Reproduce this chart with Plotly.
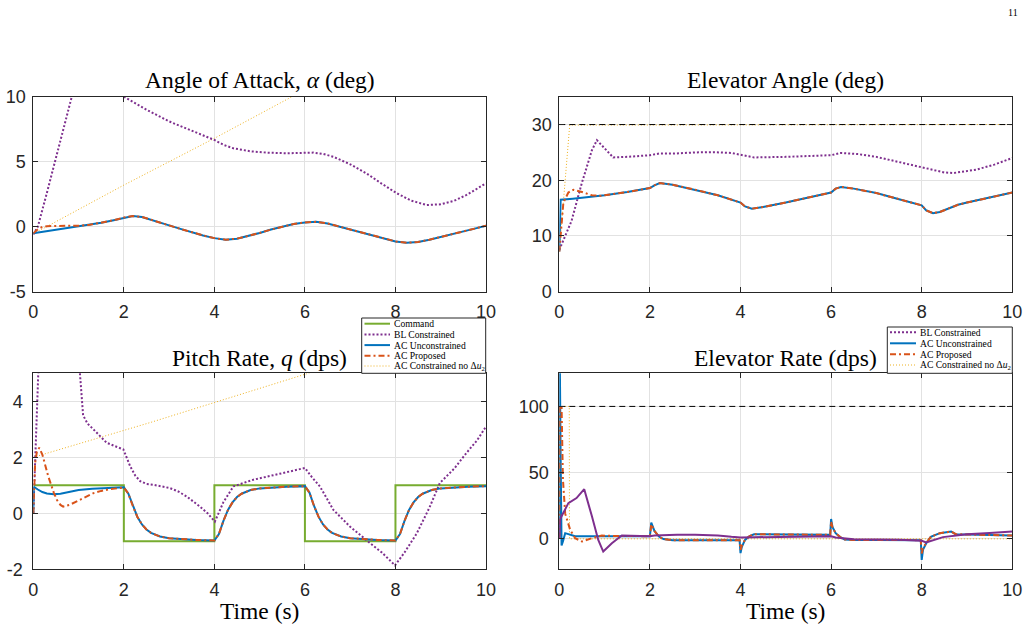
import plotly.graph_objects as go

W, H = 1029, 631
BLUE = "#0072BD"
ORANGE = "#D95319"
YELLOW = "#EDB120"
PURPLE = "#7E2F8E"
GREEN = "#77AC30"
AXC = "#262626"
GRID = "#E2E2E2"

# ---------------- data ----------------
# Angle of attack (deg)
AOA_T = [0, 0.25, 0.5, 0.75, 1.0, 1.25, 1.5, 1.75, 2.0, 2.2, 2.4, 2.6, 2.8, 3.0, 3.25, 3.5, 3.75, 4.0,
         4.25, 4.5, 4.75, 5.0, 5.25, 5.5, 5.75, 6.0, 6.25, 6.5, 6.75, 7.0, 7.25, 7.5, 7.75, 8.0, 8.25,
         8.5, 8.75, 9.0, 9.25, 9.5, 9.75, 10.0]
AOA_UNC = [-0.5, -0.37, -0.25, -0.12, 0.0, 0.13, 0.3, 0.48, 0.7, 0.82, 0.75, 0.55, 0.32, 0.1, -0.17,
           -0.43, -0.67, -0.88, -1.0, -0.92, -0.72, -0.48, -0.22, 0.02, 0.2, 0.33, 0.38, 0.25, 0.02,
           -0.22, -0.47, -0.71, -0.94, -1.13, -1.23, -1.18, -1.0, -0.8, -0.6, -0.38, -0.15, 0.08]
AOA_PROP_HEAD_T = [0, 0.1, 0.2, 0.3, 0.5, 0.75, 1.0, 1.25]
AOA_PROP_HEAD = [-0.5, -0.2, -0.02, 0.03, 0.06, 0.06, 0.07, 0.15]
AOA_BL_T = [0, 0.1, 0.3, 0.5, 0.7, 0.85, 1.0, 1.3, 1.6, 1.9, 2.0, 2.5, 3.0, 3.5, 4.0, 4.2, 4.42, 4.8,
            5.15, 5.6, 6.19, 6.4, 6.63, 7.0, 7.36, 7.7, 8.03, 8.35, 8.69, 9.0, 9.3, 9.57, 9.8, 10.0]
AOA_BL = [-0.6, 0.0, 2.6, 5.3, 8.0, 10.0, 11.8, 13.2, 12.5, 10.5, 10.0, 9.0, 8.1, 7.4, 6.67, 6.3,
          6.03, 5.8, 5.7, 5.65, 5.7, 5.6, 5.38, 4.8, 4.1, 3.3, 2.57, 2.0, 1.67, 1.72, 2.0, 2.44, 2.9, 3.34]
AOA_NO_T = [0, 2, 4, 5.67, 10]
AOA_NO = [-0.55, 3.2, 6.8, 10.0, 18.0]

# Elevator angle (deg)
EA_T = [0, 0.03, 0.3, 0.72, 1.0, 1.5, 2.0, 2.1, 2.22, 2.5, 3.0, 3.5, 4.0, 4.1, 4.25, 4.5, 5.0, 5.5,
        6.0, 6.1, 6.22, 6.5, 7.0, 7.5, 8.0, 8.1, 8.25, 8.4, 8.6, 8.8, 9.0, 9.5, 10.0]
EA_UNC = [7.2, 16.5, 16.7, 17.0, 17.3, 17.9, 18.6, 19.1, 19.5, 19.2, 18.3, 17.3, 16.0, 15.3, 14.9,
          15.2, 16.0, 16.9, 17.8, 18.5, 18.8, 18.5, 17.7, 16.6, 15.5, 14.6, 14.1, 14.3, 15.0, 15.6,
          16.0, 16.9, 17.8]
EA_PROP_HEAD_T = [0, 0.05, 0.09, 0.2, 0.31, 0.5, 0.72, 0.9]
EA_PROP_HEAD = [7.2, 12.0, 16.0, 17.8, 18.3, 17.9, 17.3, 17.2]
EA_BL_T = [0, 0.27, 0.49, 0.72, 0.83, 1.01, 1.19, 1.5, 2.0, 2.2, 2.55, 3.0, 3.4, 3.8, 4.0, 4.3, 5.0,
           5.5, 6.0, 6.2, 6.6, 7.0, 7.5, 8.0, 8.5, 8.7, 9.2, 9.6, 10.0]
EA_BL = [7.5, 12.7, 19.3, 25.4, 27.2, 25.7, 24.1, 24.2, 24.5, 24.8, 24.8, 25.0, 25.05, 24.9, 24.6,
         24.1, 24.2, 24.3, 24.5, 24.9, 24.7, 24.2, 23.3, 22.4, 21.4, 21.3, 21.9, 22.8, 24.0]
EA_NO_T = [0, 0.23, 10]
EA_NO = [7.2, 29.9, 30.0]
EA_LIMIT_T = [0, 10]
EA_LIMIT = [30, 30]

# Pitch rate (dps)
CMD_T = [0, 2, 2, 4, 4, 6, 6, 8, 8, 10]
CMD = [1, 1, -1, -1, 1, 1, -1, -1, 1, 1]
Q_UNC_HEAD_T = [0, 0.01, 0.1, 0.2, 0.3, 0.45, 0.6, 0.8, 1.0, 1.3, 1.6, 2.0]
Q_UNC_HEAD = [0, 0.95, 0.85, 0.76, 0.71, 0.68, 0.70, 0.76, 0.83, 0.88, 0.91, 0.93]
Q_PROP_HEAD_T = [0, 0.04, 0.08, 0.13, 0.2, 0.33, 0.45, 0.52, 0.6, 0.66, 0.8, 0.96, 1.15, 1.33, 1.5,
                 1.69, 2.0]
Q_PROP_HEAD = [0, 1.8, 2.2, 2.34, 2.1, 1.32, 0.75, 0.48, 0.3, 0.24, 0.3, 0.42, 0.58, 0.72, 0.8,
               0.86, 0.92]
Q_TAIL_T = [2.1, 2.2, 2.3, 2.4, 2.5, 2.6, 2.8, 3.0, 3.3, 3.6, 4.0,
            4.1, 4.2, 4.3, 4.4, 4.5, 4.6, 4.8, 5.0, 5.3, 5.6, 6.0,
            6.1, 6.2, 6.3, 6.4, 6.5, 6.6, 6.8, 7.0, 7.3, 7.6, 8.0,
            8.1, 8.2, 8.3, 8.4, 8.5, 8.6, 8.8, 9.0, 9.3, 9.6, 10.0]
Q_TAIL = [0.70, 0.25, -0.13, -0.40, -0.58, -0.70, -0.83, -0.89, -0.93, -0.95, -0.97,
          -0.74, -0.27, 0.12, 0.39, 0.58, 0.70, 0.83, 0.89, 0.93, 0.95, 0.97,
          0.74, 0.27, -0.12, -0.40, -0.58, -0.70, -0.83, -0.89, -0.93, -0.95, -0.97,
          -0.74, -0.27, 0.12, 0.39, 0.58, 0.70, 0.83, 0.89, 0.93, 0.95, 0.97]
Q_BL_T = [0, 0.05, 0.11, 0.2, 0.5, 0.8, 1.03, 1.1, 1.2, 1.29, 1.45, 1.62, 1.8, 1.99, 2.14, 2.25, 2.36,
          2.5, 2.65, 3.02, 3.2, 3.39, 3.68, 3.85, 4.01, 4.2, 4.42, 4.86, 5.52, 6.0, 6.15, 6.33, 6.63,
          7.0, 7.36, 7.7, 7.99, 8.2, 8.47, 8.75, 8.98, 9.3, 9.57, 9.8, 10.0]
Q_BL = [0, 2.5, 5.0, 8.0, 10.0, 8.0, 5.0, 3.5, 3.2, 3.06, 2.8, 2.52, 2.4, 2.28, 1.68, 1.35, 1.15,
        1.05, 1.02, 0.9, 0.78, 0.6, 0.24, 0.0, -0.3, 0.4, 0.96, 1.2, 1.44, 1.62, 1.3, 0.96, 0.12,
        -0.48, -0.96, -1.4, -1.86, -1.4, -0.72, 0.2, 1.08, 1.6, 2.16, 2.6, 3.1]
Q_NO_T = [0, 2.58, 6.15, 10]
Q_NO = [2.0, 3.24, 5.04, 6.9]

# Elevator rate (dps)
ER_UNC_T = [0, 0.01, 0.03, 0.05, 0.08, 0.13, 0.35, 1.0, 1.5, 2.0, 2.03, 2.1, 2.2, 2.3, 2.5, 3.0, 3.5,
            3.98, 4.0, 4.03, 4.1, 4.2, 4.3, 4.6, 5.0, 5.5, 5.98, 6.0, 6.03, 6.1, 6.2, 6.3, 6.5, 7.0,
            7.5, 7.98, 8.0, 8.03, 8.1, 8.2, 8.4, 8.65, 8.75, 9.0, 9.5, 10.0]
ER_UNC = [0, 140, 60, -5, -2, 4.3, 2.0, 2.0, 2.0, 2.0, 12.3, 6.0, 1.7, -0.2, -1.0, -1.0, -1.0, -1.0,
          -10.8, -6.0, -0.8, 2.0, 3.5, 3.5, 3.3, 3.0, 3.0, 15.0, 9.0, 4.3, 1.3, -0.5, -0.8, -0.8,
          -1.0, -1.0, -15.9, -8.0, -3.3, 1.5, 4.3, 5.5, 3.5, 3.3, 3.0, 2.5]
ER_PROP_T = [0, 0.005, 0.05, 0.08, 0.13, 0.24, 0.35, 0.5, 0.72, 0.94, 1.2, 2.0, 2.03, 2.1, 2.2, 2.3,
             2.5, 3.0, 3.5, 3.98, 4.0, 4.03, 4.1, 4.2, 4.3, 4.6, 5.0, 5.5, 5.98, 6.0, 6.03, 6.1, 6.2,
             6.3, 6.5, 7.0, 7.5, 7.98, 8.0, 8.03, 8.1, 8.2, 8.4, 8.65, 8.75, 9.0, 9.5, 10.0]
ER_PROP = [0, 100, 100, 45, 19, 6.8, 0.5, -2.0, 0.5, 2.5, 2.2, 2.0, 11.0, 6.0, 1.7, -0.2, -1.0, -1.0,
           -1.0, -1.0, -8.3, -5.0, -0.8, 2.0, 3.5, 3.5, 3.3, 3.0, 3.0, 13.0, 8.5, 4.3, 1.3, -0.5,
           -0.8, -0.8, -1.0, -1.0, -11.0, -6.5, -3.3, 1.5, 4.3, 5.5, 3.5, 3.3, 3.0, 2.5]
ER_BL_T = [0, 0.02, 0.05, 0.2, 0.38, 0.55, 0.72, 0.86, 0.97, 1.16, 1.38, 1.6, 2.0, 2.1, 2.3, 2.6, 3.0,
           3.5, 3.8, 4.0, 4.3, 5.0, 5.5, 6.0, 6.1, 6.5, 7.0, 7.5, 8.0, 8.1, 8.47, 9.0, 9.5, 10.0]
ER_BL = [0, 15, 17, 27, 30.8, 37.5, 17, -0.8, -9.6, -3.3, 2.5, 2.2, 2.0, 2.5, 2.8, 3.0, 3.0, 2.5, 1.5,
         1.0, 1.2, 1.5, 1.8, 2.0, 1.0, -0.3, -0.5, -0.6, -1.5, -2.8, 1.3, 3.5, 4.5, 5.5]
ER_NO_T = [0, 0.005, 0.22, 0.225, 10]
ER_NO = [0, 100, 100, 0, 0]
ER_LIMIT_T = [0, 10]
ER_LIMIT = [100, 100]

TITLES = ["Angle of Attack, <i>α</i> (deg)", "Elevator Angle (deg)",
          "Pitch Rate, <i>q</i> (dps)", "Elevator Rate (dps)"]
XLABEL = "Time (s)"
X_TICKS = [0, 2, 4, 6, 8, 10]
Y_TICKS = [[-5, 0, 5, 10], [0, 10, 20, 30], [-2, 0, 2, 4], [0, 50, 100]]
Y_RANGES = [[-5, 10], [0, 35], [-2, 5], [-23, 125]]
LEG1 = ["Command", "BL Constrained", "AC Unconstrained", "AC Proposed",
        "AC Constrained no Δ<i>u</i><sub>2</sub>"]
LEG2 = LEG1[1:]

# ---------------- styles ----------------
S_CMD = dict(color=GREEN, width=2)
S_BL = dict(color=PURPLE, width=2, dash="2px,2px")
S_UNC = dict(color=BLUE, width=2)
S_PROP = dict(color=ORANGE, width=2, dash="6px,3px,2px,3px")
S_NO = dict(color=YELLOW, width=1, dash="1px,2px")
S_LIM = dict(color="black", width=1, dash="6px,4px")

fig = go.Figure()


def add(x, y, line, ax):
    xa = "x" if ax == 1 else "x%d" % ax
    ya = "y" if ax == 1 else "y%d" % ax
    fig.add_trace(go.Scatter(x=x, y=y, mode="lines", line=line, xaxis=xa, yaxis=ya,
                             showlegend=False, hoverinfo="skip"))


# top-left
add(AOA_NO_T, AOA_NO, S_NO, 1)
add(AOA_BL_T, AOA_BL, S_BL, 1)
add(AOA_T, AOA_UNC, S_UNC, 1)
add(AOA_PROP_HEAD_T + AOA_T[6:], AOA_PROP_HEAD + AOA_UNC[6:], S_PROP, 1)
# top-right
add(EA_NO_T, EA_NO, S_NO, 2)
add(EA_LIMIT_T, EA_LIMIT, S_LIM, 2)
add(EA_BL_T, EA_BL, S_BL, 2)
add(EA_T, EA_UNC, S_UNC, 2)
add(EA_PROP_HEAD_T + EA_T[4:], EA_PROP_HEAD + EA_UNC[4:], S_PROP, 2)
# bottom-left
add(CMD_T, CMD, S_CMD, 3)
add(Q_NO_T, Q_NO, S_NO, 3)
add(Q_BL_T, Q_BL, S_BL, 3)
add(Q_UNC_HEAD_T + Q_TAIL_T, Q_UNC_HEAD + Q_TAIL, S_UNC, 3)
add(Q_PROP_HEAD_T + Q_TAIL_T, Q_PROP_HEAD + Q_TAIL, S_PROP, 3)
# bottom-right
add(ER_NO_T, ER_NO, S_NO, 4)
add(ER_LIMIT_T, ER_LIMIT, S_LIM, 4)
add(ER_UNC_T, ER_UNC, S_UNC, 4)
add(ER_PROP_T, ER_PROP, S_PROP, 4)
add(ER_BL_T, ER_BL, dict(color=PURPLE, width=2), 4)


def px(x):
    return x / W


def py(y):
    return 1 - y / H


XL = [px(33.3), px(486.0)]
XR = [px(559.3), px(1012.3)]
YT = [py(291.7), py(96.7)]
YB = [py(569.3), py(373.3)]
doms = [(XL, YT), (XR, YT), (XL, YB), (XR, YB)]
Y_STANDOFF = [3, 3, 6, 6]

tickfont = dict(family="Liberation Sans, Arial, sans-serif", size=18, color=AXC)
common = dict(showline=True, linecolor=AXC, linewidth=1, mirror="allticks", ticks="inside",
              ticklen=5, tickcolor=AXC, showgrid=True, gridcolor=GRID, gridwidth=1,
              zeroline=False, tickfont=tickfont, automargin=False)
layout = {}
for i, (xd, yd) in enumerate(doms):
    n = "" if i == 0 else str(i + 1)
    layout["xaxis" + n] = dict(common, domain=xd, range=[0, 10], tickvals=X_TICKS,
                               ticktext=[str(v) for v in X_TICKS], ticklabelstandoff=4,
                               anchor="y" + n)
    layout["yaxis" + n] = dict(common, domain=yd, range=Y_RANGES[i], tickvals=Y_TICKS[i],
                               ticktext=[str(v) for v in Y_TICKS[i]],
                               ticklabelstandoff=Y_STANDOFF[i], anchor="x" + n)

serif = "Liberation Serif, Times New Roman, serif"
ann = []
title_pos = [(259.5, 80), (785.8, 80), (259.5, 357.5), (785.8, 357.5)]
for (x, y), t in zip(title_pos, TITLES):
    ann.append(dict(x=px(x), y=py(y), xref="paper", yref="paper", text=t, showarrow=False,
                    xanchor="center", yanchor="middle",
                    font=dict(family=serif, size=23.5, color="black")))
for x in (259.5, 785.8):
    ann.append(dict(x=px(x), y=py(611), xref="paper", yref="paper", text=XLABEL, showarrow=False,
                    xanchor="center", yanchor="middle",
                    font=dict(family=serif, size=23.5, color="black")))
ann.append(dict(x=px(1013), y=py(12), xref="paper", yref="paper", text="11", showarrow=False,
                xanchor="center", yanchor="middle", font=dict(family=serif, size=10, color="black")))

shapes = []


def legend(box, labels, styles, ys, lx0, lx1, tx):
    x0, y0, x1, y1 = box
    shapes.append(dict(type="rect", xref="paper", yref="paper", x0=px(x0), x1=px(x1),
                       y0=py(y1), y1=py(y0), fillcolor="white", line=dict(color=AXC, width=1),
                       layer="above"))
    for lab, st, y in zip(labels, styles, ys):
        shapes.append(dict(type="line", xref="paper", yref="paper", x0=px(lx0), x1=px(lx1),
                           y0=py(y), y1=py(y), line=st, layer="above"))
        ann.append(dict(x=px(tx), y=py(y), xref="paper", yref="paper", text=lab, showarrow=False,
                        xanchor="left", yanchor="middle",
                        font=dict(family=serif, size=9.6, color="black")))


legend((361.7, 318.0, 485.7, 373.3), LEG1, [S_CMD, S_BL, S_UNC, S_PROP, S_NO],
       [323.7, 334.4, 345.1, 355.7, 366.0], 364.5, 390.0, 391.5)
legend((887.3, 327.0, 1012.3, 373.3), LEG2, [S_BL, S_UNC, S_PROP, S_NO],
       [332.3, 343.3, 354.3, 365.0], 890.0, 916.0, 917.5)

fig.update_layout(width=W, height=H, margin=dict(l=0, r=0, t=0, b=0, autoexpand=False),
                  paper_bgcolor="white", plot_bgcolor="white", showlegend=False,
                  annotations=ann, shapes=shapes, **layout)
fig.write_html("out.html", config={"displayModeBar": False, "responsive": False},
               post_script="document.body.style.margin='0px';"
                           "document.documentElement.style.overflow='hidden';")
